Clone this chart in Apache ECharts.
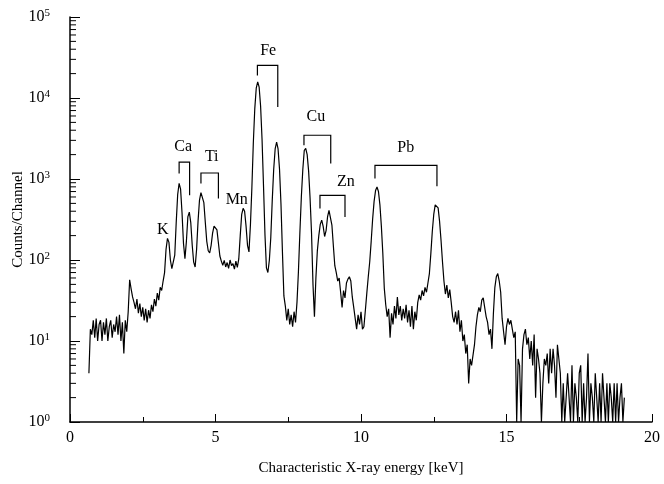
<!DOCTYPE html>
<html>
<head>
<meta charset="utf-8">
<title>XRF spectrum</title>
<script src="https://cdn.jsdelivr.net/npm/echarts@6/dist/echarts.min.js"></script>
<style>
  html, body { margin: 0; padding: 0; background: #fff; }
  #chart { width: 664px; height: 484px; }
</style>
</head>
<body>
<div id="chart"></div>
<script>
// channel calibration: first channel energy and channel width (keV)
const START_KEV = 0.65;
const STEP_KEV = 0.05;

// counts per channel (one row = 0.5 keV)
const counts = [
  4, 14, 12, 18, 11, 19, 10, 16, 18, 10,
  17, 12, 19, 10, 15, 18, 11, 16, 13, 20,
  12, 21, 10, 17, 7, 18, 13, 23, 57, 44,
  35, 30, 25, 33, 22, 29, 20, 26, 18, 25,
  17, 24, 19, 28, 23, 33, 27, 39, 32, 46,
  42, 55, 70, 135, 185, 165, 100, 78, 74, 115,
  290, 640, 885, 750, 380, 160, 104, 170, 340, 390,
  290, 152, 94, 82, 135, 300, 550, 680, 685, 510,
  290, 170, 130, 122, 152, 215, 262, 272, 235, 162,
  112, 97, 86, 99, 82, 93, 79, 100, 85, 90,
  77, 97, 81, 103, 200, 365, 435, 400, 262, 152,
  126, 270, 780, 2800, 7400, 13200, 15800, 13600, 7900, 3050,
  820, 205, 80, 70, 99, 190, 545, 1320, 2350, 2860,
  2350, 1320, 490, 126, 36, 27, 18, 25, 16, 21,
  15, 23, 17, 30, 72, 220, 600, 1300, 2250, 2390,
  2000, 1250, 580, 215, 50, 20, 60, 130, 200, 275,
  310, 260, 195, 230, 340, 411, 390, 270, 150, 85,
  70, 55, 60, 40, 26, 42, 34, 52, 58, 62,
  55, 35, 26, 19, 14, 21, 16, 23, 14, 15,
  24, 39, 62, 95, 170, 320, 530, 720, 797, 700,
  480, 260, 120, 45, 28, 20, 25, 11, 22, 16,
  27, 19, 35, 21, 27, 18, 25, 19, 28, 17,
  24, 15, 27, 14, 23, 18, 30, 37, 32, 42,
  36, 46, 40, 52, 68, 120, 225, 365, 480, 500,
  440, 300, 175, 95, 55, 38, 49, 34, 43, 30,
  20, 17, 23, 16, 24, 13, 18, 10, 12, 7,
  9, 3, 6, 5, 5, 9, 15, 21, 26, 23,
  32, 34, 26, 20, 17, 12, 14, 8, 22, 46,
  62, 68, 55, 40, 19, 13, 9, 15, 19, 16,
  18, 14, 11, 13, 1, 6, 5, 1, 8, 12,
  14, 9, 11, 6, 10, 5, 12, 2, 8, 6,
  4, 1, 3, 6, 5, 7, 3, 8, 4, 8,
  5, 2, 9, 6, 4, 1, 3, 1, 2, 4,
  2, 1, 5, 1, 3, 2, 1, 4, 5, 1,
  3, 1, 2, 7, 1, 3, 2, 1, 4, 2,
  1, 3, 1, 4, 2, 1, 3, 1, 3, 2,
  1, 3, 1, 3, 1, 2, 3, 1, 2
];

// element labels and their brackets (keV / counts)
const peakNames = ['K', 'Ca', 'Ti', 'Mn', 'Fe', 'Cu', 'Zn', 'Pb'];
const nameKeV = [3.19, 3.89, 4.87, 5.73, 6.81, 8.45, 9.48, 11.54];
const nameCounts = [233, 2480, 1900, 546, 38800, 5940, 918, 2440];

const bracketLeftKeV = [3.75, 4.50, 6.44, 8.04, 8.59, 10.48];
const bracketRightKeV = [4.11, 5.10, 7.14, 8.96, 9.45, 12.61];
const bracketTop = [1620, 1186, 25300, 3466, 629, 1476];
const bracketLeftEnd = [1166, 877, 19000, 2607, 431, 1011];
const bracketRightEnd = [629, 573, 7740, 1550, 340, 813];

const xTicks = [0, 5, 10, 15, 20];
const decades = [0, 1, 2, 3, 4, 5];

const energies = counts.map((c, i) => +(START_KEV + i * STEP_KEV).toFixed(2));
const spectrum = counts.map((c, i) => [energies[i], c]);

// minor ticks 2..9 in each decade for the log axis
let minorVals = [];
for (let d = 0; d < decades.length - 1; d++) {
  for (let m = 2; m <= 9; m++) minorVals.push([0, m * Math.pow(10, decades[d])]);
}

const FONT = 'Liberation Serif';

let myChart = echarts.init(document.getElementById('chart'));
let option = {
  animation: false,
  backgroundColor: '#fff',
  grid: { left: 70, right: 12, top: 17, bottom: 62, containLabel: false, outerBoundsMode: 'none' },
  xAxis: {
    type: 'value',
    min: xTicks[0],
    max: xTicks[xTicks.length - 1],
    interval: 5,
    name: 'Characteristic X-ray energy [keV]',
    nameLocation: 'middle',
    nameGap: 39,
    nameMoveOverlap: false,
    nameTextStyle: { fontFamily: FONT, fontSize: 15, color: '#000' },
    axisLine: { lineStyle: { color: '#000', width: 1.5 } },
    axisTick: { inside: true, length: 8, lineStyle: { color: '#000' } },
    minorTick: { show: true, splitNumber: 2, length: 5, lineStyle: { color: '#000' } },
    splitLine: { show: false },
    axisLabel: { margin: 8, fontFamily: FONT, fontSize: 16, color: '#000' }
  },
  yAxis: {
    type: 'log',
    logBase: 10,
    min: Math.pow(10, decades[0]),
    max: Math.pow(10, decades[decades.length - 1]),
    name: 'Counts/Channel',
    nameLocation: 'middle',
    nameRotate: 90,
    nameGap: 44,
    nameMoveOverlap: false,
    nameTextStyle: { fontFamily: FONT, fontSize: 15, color: '#000' },
    axisLine: { show: true, lineStyle: { color: '#000', width: 1.5 } },
    axisTick: { inside: true, length: 10, lineStyle: { color: '#000' } },
    splitLine: { show: false },
    axisLabel: {
      margin: 20,
      formatter: function (v) {
        return '{b|10}{s|' + Math.round(Math.log10(v)) + '}';
      },
      rich: {
        b: { fontFamily: FONT, fontSize: 16, color: '#000' },
        s: { fontFamily: FONT, fontSize: 11, color: '#000', verticalAlign: 'top', padding: [0, 0, 8, 0] }
      }
    }
  },
  series: [
    {
      name: 'spectrum',
      type: 'line',
      data: spectrum,
      showSymbol: false,
      lineStyle: { color: '#000', width: 1.2 },
      z: 3
    },
    {
      // log minor ticks on the y axis
      type: 'custom',
      data: minorVals,
      silent: true,
      renderItem: function (params, api) {
        let p = api.coord([0, api.value(1)]);
        return {
          type: 'line',
          shape: { x1: p[0], y1: p[1], x2: p[0] + 6, y2: p[1] },
          style: { stroke: '#000', lineWidth: 1 }
        };
      }
    },
    {
      // brackets over the K-alpha / K-beta pairs
      type: 'custom',
      data: bracketLeftKeV.map((x, i) => [x, bracketRightKeV[i], bracketTop[i], bracketLeftEnd[i], bracketRightEnd[i]]),
      silent: true,
      renderItem: function (params, api) {
        let a = api.coord([api.value(0), api.value(3)]);
        let b = api.coord([api.value(0), api.value(2)]);
        let c = api.coord([api.value(1), api.value(2)]);
        let d = api.coord([api.value(1), api.value(4)]);
        return {
          type: 'polyline',
          shape: { points: [a, b, c, d] },
          style: { stroke: '#000', lineWidth: 1.2, fill: null }
        };
      }
    },
    {
      type: 'custom',
      data: peakNames.map((n, i) => [nameKeV[i], nameCounts[i], n]),
      silent: true,
      renderItem: function (params, api) {
        let p = api.coord([api.value(0), api.value(1)]);
        return {
          type: 'text',
          x: p[0],
          y: p[1],
          style: {
            text: peakNames[params.dataIndex],
            fontFamily: FONT,
            fontSize: 16,
            fill: '#000',
            align: 'center',
            verticalAlign: 'middle'
          }
        };
      }
    }
  ]
};
myChart.setOption(option);
</script>
</body>
</html>
